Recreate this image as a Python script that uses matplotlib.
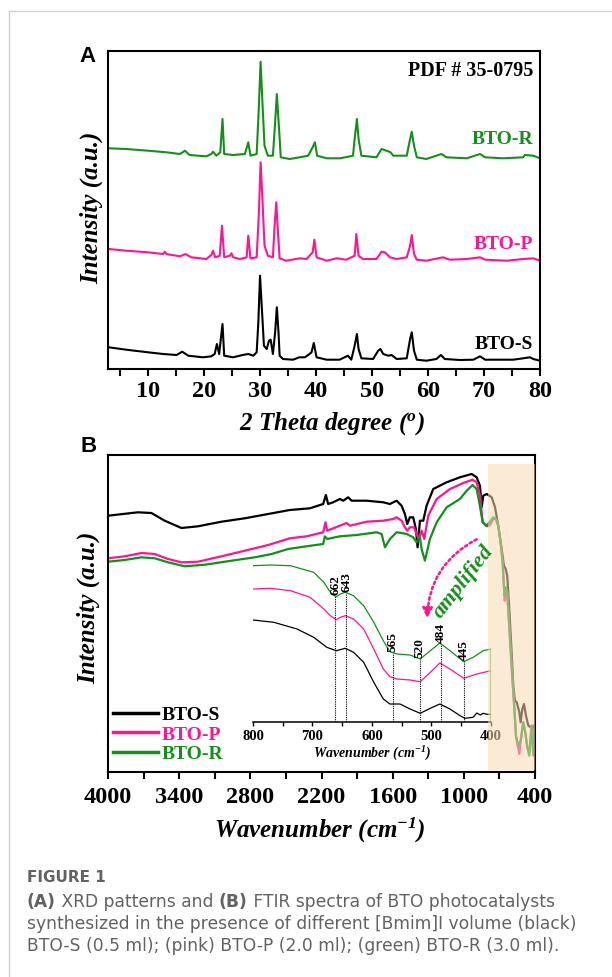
import numpy as np
import matplotlib.pyplot as plt
import matplotlib.patches as mpatches
from matplotlib.lines import Line2D
from matplotlib.ticker import FixedLocator

plt.rcParams['font.family'] = ['Liberation Serif', 'DejaVu Serif']
plt.rcParams['font.weight'] = 'bold'
plt.rcParams['axes.labelweight'] = 'bold'
plt.rcParams['mathtext.default'] = 'regular'
plt.rcParams['axes.linewidth'] = 1.5

# ---- XRD data (2 theta, intensity a.u.) ----
tt_s = [3.0, 6.1, 10.0, 12.7, 15.1, 16.1, 17.2, 19.8, 21.3, 21.9, 22.3, 22.7, 23.3, 23.6, 25.2,
        26.9, 27.9, 28.8, 29.4, 29.7, 30.0, 30.3, 30.7, 31.2, 31.6, 31.9, 32.3, 32.7, 33.0, 33.3,
        33.5, 34.1, 35.9, 37.0, 38.0, 38.6, 39.2, 39.6, 40.1, 41.9, 44.2, 45.7, 46.3, 46.9, 47.3,
        47.6, 48.1, 50.2, 51.1, 51.5, 52.0, 52.9, 53.5, 54.4, 56.2, 56.8, 57.1, 57.5, 58.0, 59.7,
        61.5, 62.3, 63.0, 65.7, 68.1, 69.3, 70.2, 72.9, 75.2, 77.0, 78.2, 78.8, 80.0]
i_s = [21.7, 19.3, 16.7, 15.0, 14.0, 17.3, 13.3, 11.7, 12.7, 15.0, 25.0, 15.0, 45.0, 13.3, 11.7,
       14.0, 15.0, 13.3, 16.7, 46.7, 93.3, 63.3, 23.3, 20.0, 28.3, 29.3, 15.0, 36.7, 61.7, 36.7,
       13.3, 10.0, 9.3, 11.7, 11.7, 14.0, 16.7, 26.0, 11.7, 9.3, 9.3, 13.3, 9.3, 23.3, 35.0,
       20.0, 10.7, 10.0, 18.3, 20.0, 15.0, 13.3, 14.0, 10.0, 10.7, 30.0, 36.7, 18.3, 9.3, 8.3,
       10.0, 14.0, 10.0, 9.0, 9.3, 12.7, 9.3, 9.3, 9.3, 10.7, 11.7, 10.0, 8.3]

tt_p = [3.0, 6.1, 10.0, 12.7, 13.0, 13.3, 15.7, 16.7, 17.7, 20.4, 21.3, 21.6, 22.0, 22.8, 23.2,
        23.6, 24.6, 24.9, 25.2, 26.4, 27.6, 27.9, 28.3, 29.4, 29.8, 30.1, 30.4, 30.8, 31.4, 32.3,
        32.6, 32.9, 33.2, 33.5, 34.7, 37.1, 38.3, 39.4, 39.7, 40.1, 41.9, 43.7, 45.4, 46.9, 47.2,
        47.6, 48.4, 50.8, 51.7, 52.3, 53.2, 54.4, 56.2, 56.8, 57.1, 57.5, 58.0, 59.7, 62.7, 63.9,
        66.9, 69.3, 70.2, 74.1, 77.0, 78.8, 80.0]
i_p = [120.0, 118.3, 116.7, 115.0, 117.3, 115.0, 112.7, 115.0, 111.7, 110.0, 114.0, 118.3, 111.7, 113.3, 143.3,
       111.7, 113.3, 115.7, 111.7, 110.0, 111.7, 133.3, 110.7, 111.7, 156.7, 206.7, 173.3, 123.3, 113.3, 111.7,
       143.3, 166.7, 136.7, 110.7, 108.3, 110.7, 110.0, 116.7, 129.3, 111.7, 108.3, 110.7, 109.3, 113.3, 135.0,
       113.3, 110.0, 110.0, 117.3, 116.7, 111.7, 110.0, 111.7, 123.3, 134.0, 115.0, 109.3, 108.3, 111.7, 109.3,
       110.0, 111.7, 109.3, 108.3, 110.0, 110.7, 108.3]

tt_r = [3.0, 6.1, 10.0, 13.3, 15.7, 16.6, 17.4, 20.4, 21.3, 21.6, 22.2, 22.9, 23.3, 23.6, 25.2,
        27.3, 27.9, 28.3, 29.4, 29.8, 30.1, 30.4, 30.8, 31.4, 32.3, 32.7, 33.0, 33.4, 33.7, 35.3,
        37.1, 38.6, 39.4, 39.8, 40.2, 41.9, 44.3, 46.6, 46.9, 47.3, 47.6, 48.1, 50.8, 51.7, 52.6,
        53.3, 53.8, 56.2, 56.8, 57.1, 57.5, 58.0, 59.7, 62.4, 63.3, 66.9, 69.3, 70.2, 73.4, 77.0,
        77.3, 78.8, 80.0]
i_r = [220.7, 220.0, 218.3, 216.7, 215.0, 218.3, 214.0, 212.7, 215.0, 217.3, 213.3, 216.7, 250.0, 215.0, 214.0,
       215.0, 226.7, 213.3, 215.0, 263.3, 307.3, 270.0, 223.3, 213.3, 213.3, 246.7, 275.0, 240.0, 211.7, 210.0,
       211.7, 213.3, 221.7, 226.7, 213.3, 210.7, 210.7, 213.3, 230.0, 250.0, 230.0, 213.3, 211.7, 220.0, 218.3,
       216.7, 213.3, 213.3, 230.0, 237.3, 223.3, 211.7, 210.0, 215.0, 211.7, 210.7, 215.0, 211.7, 210.7, 211.7,
       214.0, 213.3, 210.7]

xrd_major = [10, 20, 30, 40, 50, 60, 70, 80]
xrd_minor = [5, 15, 25, 35, 45, 55, 65, 75]

# ---- FTIR data (wavenumber, transmittance a.u.) ----
wn_s = [4000, 3747, 3634, 3522, 3381, 3241, 3043, 2847, 2650, 2467, 2298, 2186, 2163, 2144, 2102,
        2045, 2017, 1975, 1946, 1820, 1680, 1623, 1567, 1525, 1497, 1477, 1455, 1427, 1404, 1390,
        1370, 1342, 1314, 1258, 1145, 1033, 934, 892, 864, 850, 836, 807, 794, 765, 737,
        710, 681, 662, 647, 634, 617, 600, 583, 569, 554, 532, 521, 507, 493, 476, 456, 436, 419, 406]
t_s = [256.3, 259.7, 259.0, 251.3, 244.0, 245.7, 250.3, 253.7, 258.0, 262.0, 263.7, 268.0, 277.0, 268.0, 269.7,
       273.0, 271.3, 274.7, 271.3, 271.3, 269.7, 268.0, 271.3, 266.3, 258.0, 248.0, 254.7, 254.7, 243.0, 224.7,
       251.3, 251.3, 266.3, 283.0, 289.7, 294.7, 298.0, 294.7, 286.3, 264.7, 276.3, 278.0, 277.0, 274.7, 264.7,
       246.3, 223.0, 206.3, 203.0, 196.3, 163.0, 126.3, 86.3, 71.3, 69.7, 59.7, 49.7, 63.0, 68.0, 56.3, 46.3, 44.7, 46.3, 43.0]

wn_p = [4000, 3859, 3718, 3606, 3494, 3381, 3241, 3043, 2847, 2650, 2467, 2326, 2186, 2166, 2152,
        2045, 1989, 1961, 1820, 1680, 1595, 1567, 1525, 1497, 1477, 1455, 1421, 1398, 1381, 1356,
        1334, 1300, 1229, 1117, 1005, 926, 892, 864, 841, 807, 780, 752, 729, 710, 690,
        673, 662, 656, 645, 634, 617, 597, 577, 560, 532, 521, 499, 482, 465, 448, 428, 414, 402]
t_p = [213.7, 215.7, 219.0, 218.0, 213.0, 209.7, 210.3, 215.7, 221.3, 227.0, 233.7, 235.7, 239.7, 249.7, 241.3,
       246.3, 249.0, 246.3, 250.3, 251.3, 253.0, 254.7, 251.3, 244.7, 241.3, 244.7, 244.7, 238.0, 233.0, 241.3,
       233.0, 256.3, 273.0, 283.0, 289.0, 292.3, 289.7, 276.3, 249.7, 245.7, 247.0, 253.0, 253.0, 246.3, 229.7,
       209.7, 186.3, 171.3, 183.0, 178.0, 145.0, 105.0, 68.0, 35.0, 18.0, 30.0, 49.7, 39.7, 24.7, 19.7, 46.3, 18.0, 45.0]

wn_r = [4000, 3859, 3718, 3606, 3494, 3353, 3184, 2959, 2762, 2621, 2481, 2326, 2186, 2172, 2152,
        2045, 1904, 1735, 1693, 1665, 1623, 1567, 1525, 1482, 1427, 1398, 1370, 1356, 1328, 1286,
        1229, 1145, 1033, 976, 926, 892, 870, 841, 807, 774, 752, 729, 710, 690, 673,
        662, 656, 645, 634, 617, 597, 577, 560, 541, 521, 499, 482, 465, 448, 428, 414, 402]
t_r = [210.3, 212.0, 214.7, 213.7, 209.7, 205.7, 207.3, 211.3, 214.7, 218.0, 223.0, 225.7, 228.0, 235.7, 233.0,
       235.7, 237.0, 239.7, 238.0, 224.7, 233.0, 239.7, 239.0, 238.0, 234.7, 229.7, 234.7, 223.0, 211.3, 233.0,
       249.7, 264.7, 273.0, 281.3, 287.0, 283.0, 269.7, 249.7, 246.3, 251.3, 254.7, 253.0, 246.3, 229.7, 209.7,
       186.3, 176.3, 184.7, 179.7, 146.3, 106.3, 69.7, 36.3, 26.3, 31.3, 49.7, 39.7, 24.7, 16.3, 46.3, 16.3, 46.3]

ir_major = [4000, 3400, 2800, 2200, 1600, 1000, 400]
ir_minor = [3700, 3100, 2500, 1900, 1300, 700]

# inset (800-400 cm-1, amplified)
wi_s = [800, 765, 726, 698, 676, 660, 645, 631, 614, 597, 581, 570, 553, 536, 519, 502, 486, 469, 452, 444,
        430, 424, 418, 413, 407, 400]
ii_s = [102.0, 99.7, 93.0, 84.7, 74.7, 71.3, 73.7, 69.7, 59.7, 39.7, 23.0, 18.0, 18.0, 13.0, 8.7, 13.7, 18.0,
        13.0, 6.3, 3.7, 4.7, 9.0, 7.0, 8.7, 7.7, 7.7]
wi_p = [800, 771, 737, 704, 681, 670, 660, 653, 645, 631, 614, 597, 581, 570, 558, 536, 519, 502, 486, 469,
        446, 424, 400]
ii_p = [133.0, 133.7, 131.3, 124.7, 113.0, 106.3, 102.3, 104.7, 106.3, 103.0, 93.0, 73.0, 53.0, 45.3, 43.0,
        42.0, 40.3, 49.7, 59.0, 53.0, 43.7, 48.0, 51.3]
wi_r = [800, 771, 737, 698, 681, 670, 660, 653, 645, 631, 614, 597, 581, 570, 558, 536, 519, 502, 486, 469,
        446, 430, 413, 400, 400]
ii_r = [156.3, 157.0, 156.3, 149.7, 139.7, 129.7, 125.3, 128.0, 129.7, 126.3, 116.3, 99.7, 81.3, 70.3, 68.0,
        67.0, 63.0, 71.3, 79.0, 71.3, 60.3, 64.7, 71.3, 73.0, 0.0]
peaks = [662, 643, 565, 520, 484, 445]
inset_major = [800, 700, 600, 500, 400]
inset_minor = [750, 650, 550, 450]

labels = ['BTO-S', 'BTO-P', 'BTO-R']
colors = ['black', '#ff1493', '#14901a']

W, H = 612, 978
fig = plt.figure(figsize=(W / 100, H / 100), dpi=100)


def fx(px):
    return px / W


def fy(py):
    return 1 - py / H


def box(l, t, r, b):
    return [fx(l), fy(b), (r - l) / W, (b - t) / H]


# ---------------- panel A : XRD ----------------
axA = fig.add_axes(box(108, 52, 540, 370))
for x, y, c in zip([tt_s, tt_p, tt_r], [i_s, i_p, i_r], colors):
    axA.plot(x, y, color=c, lw=1.5)
axA.set_xlim(2.85, 80)
axA.set_ylim(0, 318)
axA.xaxis.set_major_locator(FixedLocator(xrd_major))
axA.xaxis.set_minor_locator(FixedLocator(xrd_minor))
axA.tick_params(axis='x', which='both', direction='out', length=5, width=1.5, labelsize=17.5, pad=3)
axA.tick_params(axis='y', left=False, labelleft=False)
axA.set_xlabel(r'2 Theta degree ($^{o}$)', fontsize=18, fontstyle='italic')
axA.xaxis.set_label_coords(0.518, -0.125)
axA.set_ylabel('Intensity (a.u.)', fontsize=18, fontstyle='italic')
axA.yaxis.set_label_coords(-0.012, 0.51)

axA.text(0.984, 0.94, 'PDF # 35-0795', transform=axA.transAxes, ha='right', va='center', fontsize=14.5)
for lab, yy, c in zip(labels, [25, 125, 231], colors):
    axA.text(78.8, yy, lab, ha='right', va='center', color=c, fontsize=14)

# ---------------- panel B : FTIR ----------------
axB = fig.add_axes(box(108, 456, 535, 773))
axB.set_facecolor('none')
for x, y, c, lab in zip([wn_s, wn_p, wn_r], [t_s, t_p, t_r], colors, labels):
    axB.plot(x, y, color=c, lw=1.6, label=lab)
axB.set_xlim(4000, 400)
axB.set_ylim(0, 317)
axB.xaxis.set_major_locator(FixedLocator(ir_major))
axB.xaxis.set_minor_locator(FixedLocator(ir_minor))
axB.tick_params(axis='x', which='both', direction='out', length=5, width=1.5, labelsize=17.5, pad=5)
axB.tick_params(axis='y', left=False, labelleft=False)
axB.set_xlabel(r'Wavenumber (cm$^{-1}$)', fontsize=18, fontstyle='italic')
axB.xaxis.set_label_coords(0.496, -0.135)
axB.set_ylabel('Intensity (a.u.)', fontsize=18, fontstyle='italic')
axB.yaxis.set_label_coords(-0.019, 0.52)

handles = [Line2D([], [], color=c, lw=2.5) for c in colors]
axB.legend(handles, labels, loc='lower left', bbox_to_anchor=(0.012, 0.03), frameon=False,
           borderaxespad=0, borderpad=0, handlelength=2.3, handletextpad=0.2, labelspacing=0.1,
           labelcolor=colors, prop={'size': 14, 'weight': 'bold'})

# inset with the amplified 800-400 region
axI = fig.add_axes(box(253, 560, 491, 723))
axI.set_facecolor('none')
for x, y, c in zip([wi_s, wi_p, wi_r], [ii_s, ii_p, ii_r], colors):
    axI.plot(x, y, color=c, lw=0.9)
axI.set_xlim(800, 400)
axI.set_ylim(0, 163)
for s in ['left', 'right', 'top']:
    axI.spines[s].set_visible(False)
axI.spines['bottom'].set_linewidth(1.1)
axI.xaxis.set_major_locator(FixedLocator(inset_major))
axI.xaxis.set_minor_locator(FixedLocator(inset_minor))
axI.tick_params(axis='x', which='both', direction='out', length=3, width=1, labelsize=10.5, pad=2)
axI.tick_params(axis='y', left=False, labelleft=False)
axI.set_xlabel(r'Wavenumber (cm$^{-1}$)', fontsize=10, fontstyle='italic', labelpad=1)
pk_h = np.interp(peaks, wi_r[::-1][1:], ii_r[::-1][1:])
axI.vlines(peaks, 0, pk_h, colors='black', linestyles=(0, (1, 1)), lw=0.8)
for p, h in zip(peaks, pk_h):
    axI.text(p, h + 2, str(p), rotation=90, ha='center', va='bottom', fontsize=9.5)

# shaded band over the fingerprint region (drawn on top of everything)
fig.add_artist(mpatches.Rectangle((400, 2), 400, 306, transform=axB.transData,
                                  facecolor='#f8dbb3', alpha=0.55, edgecolor='none'))

fig.text(fx(463), fy(582), 'amplified', rotation=52, ha='center', va='center',
         fontsize=16, fontstyle='italic', color=colors[2])
fig.add_artist(mpatches.FancyArrowPatch((fx(479), fy(539)), (fx(427), fy(622)),
                                        transform=fig.transFigure, connectionstyle='arc3,rad=0.3',
                                        arrowstyle='-|>', mutation_scale=15, color=colors[1],
                                        lw=1.8, linestyle=(0, (1, 1.2))))

# panel letters
fig.text(fx(88), fy(56), 'A', family='Liberation Sans', fontsize=16, ha='center', va='center')
fig.text(fx(89), fy(447), 'B', family='Liberation Sans', fontsize=16, ha='center', va='center')

# page frame
fig.add_artist(Line2D([fx(9), 1], [fy(12), fy(12)], color='#d0d0d0', lw=1))
fig.add_artist(Line2D([fx(9), fx(9)], [fy(12), 0], color='#d0d0d0', lw=1))

# caption
cap_col = '#626262'
renderer = fig.canvas.get_renderer()


def caption_line(py, runs, size=12.3):
    x = fx(27)
    for s, w in runs:
        t = fig.text(x, fy(py), s, fontsize=size, fontweight=w, color=cap_col,
                     family=['DejaVu Sans'], va='baseline')
        x = t.get_window_extent(renderer).x1 / W


caption_line(882, [('FIGURE 1', 'bold')], size=11)
caption_line(907, [('(A)', 'bold'), (' XRD patterns and ', 'normal'), ('(B)', 'bold'),
                   (' FTIR spectra of BTO photocatalysts', 'normal')])
caption_line(929, [('synthesized in the presence of different [Bmim]I volume (black)', 'normal')])
caption_line(951, [('BTO-S (0.5 ml); (pink) BTO-P (2.0 ml); (green) BTO-R (3.0 ml).', 'normal')])

fig.savefig('out.png', dpi=100, facecolor='white')
